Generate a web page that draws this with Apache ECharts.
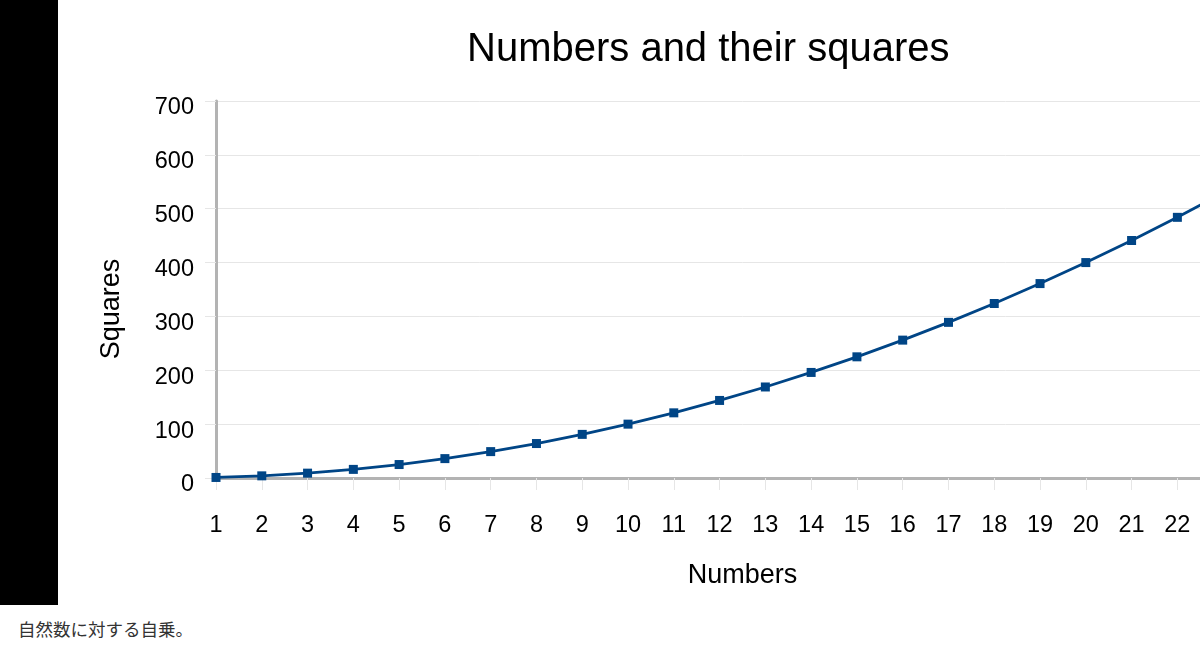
<!DOCTYPE html>
<html>
<head>
<meta charset="utf-8">
<script src="https://cdn.jsdelivr.net/npm/echarts@6/dist/echarts.min.js"></script>
<style>
html,body{margin:0;padding:0;width:1200px;height:653px;overflow:hidden;background:#fff;}
#bar{position:absolute;left:0;top:0;width:58px;height:605px;background:#000;}
#chart{position:absolute;left:0;top:0;width:1285px;height:605px;}
#cap{position:absolute;left:18px;top:616px;font-family:"Noto Sans CJK JP","Noto Sans",sans-serif;font-size:17.5px;color:#333;white-space:nowrap;}
</style>
</head>
<body>
<div id="chart"></div>
<div id="bar"></div>
<div id="cap">自然数に対する自乗。</div>
<script>
const numbers = ['1','2','3','4','5','6','7','8','9','10','11','12','13','14','15','16','17','18','19','20','21','22','23','24'];
const squares = [1,4,9,16,25,36,49,64,81,100,121,144,169,196,225,256,289,324,361,400,441,484,529,576];
const yTicks = [0,100,200,300,400,500,600,700];
const titleText = 'Numbers and their squares';
const xName = 'Numbers';
const yName = 'Squares';

const chart = echarts.init(document.getElementById('chart'), null, {renderer:'canvas'});
const font = '"Liberation Sans", Arial, sans-serif';
chart.setOption({
  animation:false,
  backgroundColor:'transparent',
  title:{
    text:titleText,
    left:462, top:25,
    textStyle:{fontFamily:font,fontSize:40,fontWeight:'normal',color:'#000'}
  },
  graphic:[{
    type:'text',
    x:112, y:309,
    rotation:Math.PI/2,
    style:{text:yName,fontFamily:font,fontSize:27,fill:'#000',align:'center',verticalAlign:'middle'}
  }],
  grid:{left:216,top:101,right:16,bottom:127,containLabel:false},
  xAxis:{
    type:'category',
    data:numbers,
    boundaryGap:false,
    name:xName,
    nameLocation:'middle',
    nameGap:84,
    nameTextStyle:{fontFamily:font,fontSize:27,color:'#000'},
    axisLine:{show:true,lineStyle:{color:'#b3b3b3',width:3}},
    axisTick:{show:true,alignWithLabel:true,length:12,lineStyle:{color:'#e6e6e6',width:1}},
    axisLabel:{fontFamily:font,fontSize:23.5,color:'#000',margin:36,interval:0},
    splitLine:{show:false}
  },
  yAxis:{
    type:'value',
    min:yTicks[0], max:yTicks[yTicks.length-1], interval:100,
    axisLine:{show:true,lineStyle:{color:'#b3b3b3',width:3}},
    axisTick:{show:true,length:11,lineStyle:{color:'#e6e6e6',width:1}},
    axisLabel:{fontFamily:font,fontSize:23.5,color:'#000',margin:22,verticalAlign:'top',lineHeight:14},
    splitLine:{show:true,lineStyle:{color:'#e6e6e6',width:1}}
  },
  series:[{
    type:'line',
    data:squares,
    symbol:'rect',
    symbolSize:9,
    showAllSymbol:true,
    lineStyle:{color:'#004586',width:2.8},
    itemStyle:{color:'#004586'},
    clip:false
  }]
});
</script>
</body>
</html>
